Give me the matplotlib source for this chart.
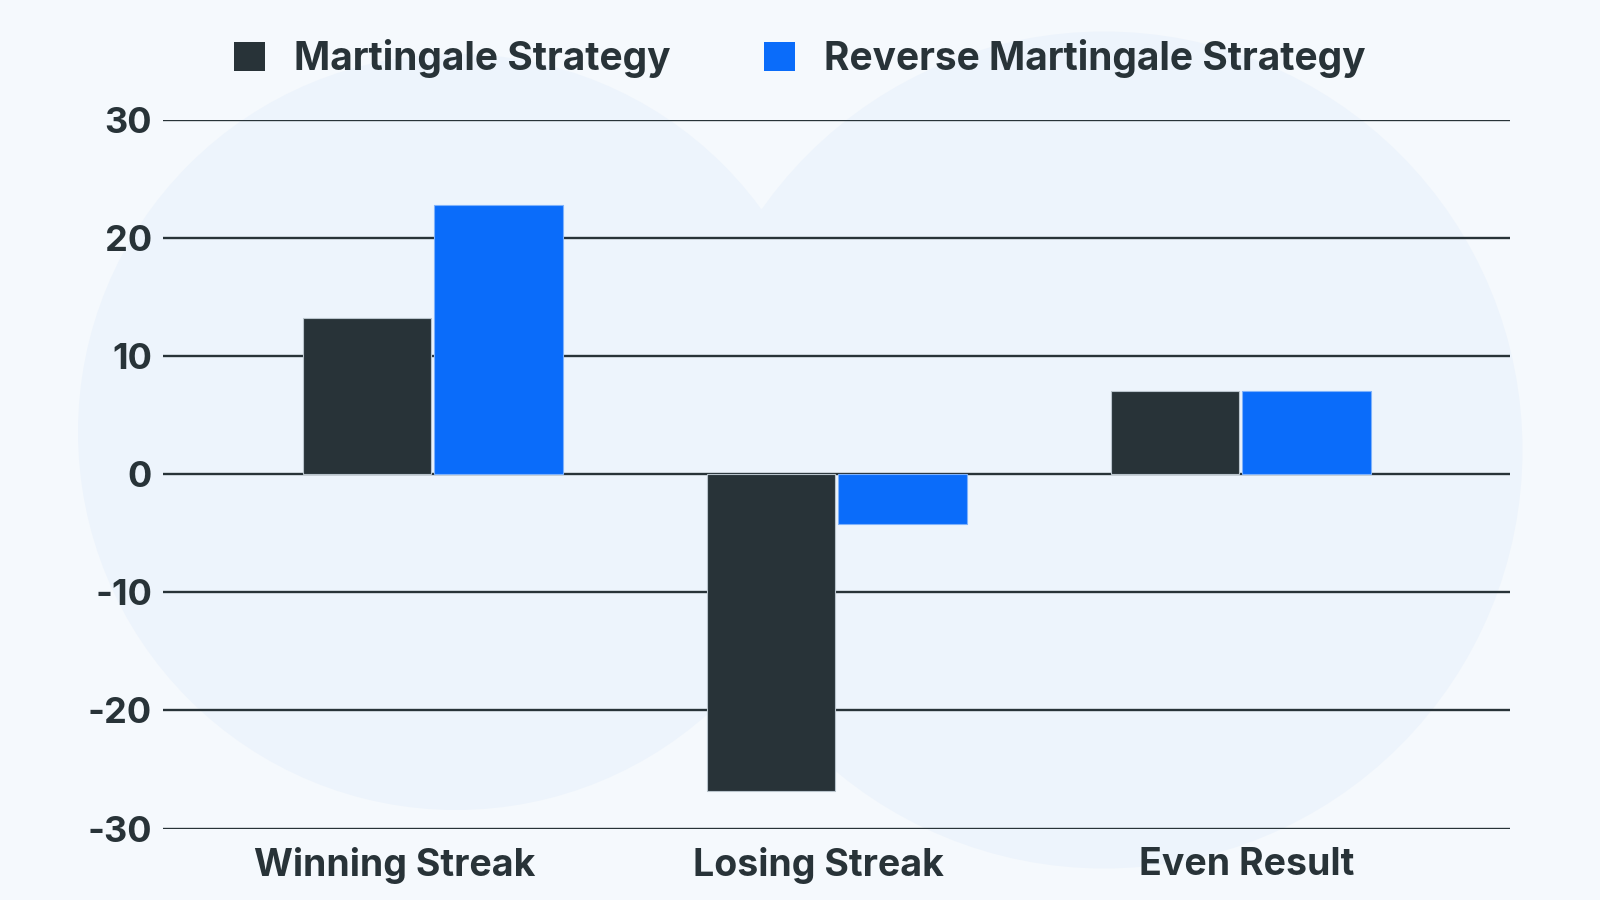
#!/usr/bin/env python3
"""Martingale vs reverse martingale outcome bars."""

import matplotlib
matplotlib.use("Agg")
import matplotlib.pyplot as plt
import numpy as np
from matplotlib.patches import Circle

categories = ["Winning Streak", "Losing Streak", "Even Result"]
martingale = [13.2, -26.8, 7.0]
reverse_martingale = [22.8, -4.2, 7.0]
series_names = ["Martingale Strategy", "Reverse Martingale Strategy"]
y_ticks = [-30, -20, -10, 0, 10, 20, 30]

DARK = "#283338"
BLUE = "#0A6CFA"
BG = "#F5F9FD"

plt.rcParams["font.family"] = ["Inter", "DejaVu Sans"]
plt.rcParams["font.weight"] = "bold"


def main():
    fig = plt.figure(figsize=(16, 9), dpi=100, facecolor=BG)

    # faint background circles
    for cx, cy, r in [(0.285, 0.52, 0.42), (0.69, 0.50, 0.465)]:
        fig.patches.append(
            Circle((cx * 16, cy * 9), r * 9, transform=fig.dpi_scale_trans,
                   facecolor="#EDF4FC", edgecolor="none", zorder=-5)
        )

    ax = fig.add_axes([0.102, 0.0794, 0.842, 0.7876])
    ax.set_facecolor("none")

    x = np.arange(len(categories))
    w = 0.318
    off = 0.163
    ax.bar(x - off, martingale, w, color=DARK, edgecolor="#B9C4CC",
           linewidth=0.8, label=series_names[0], zorder=3)
    ax.bar(x + off, reverse_martingale, w, color=BLUE, edgecolor="#7FB2FB",
           linewidth=0.8, label=series_names[1], zorder=3)

    ax.set_xlim(-0.667, 2.667)
    ax.set_ylim(-30, 30)
    ax.set_yticks(y_ticks)
    ax.set_yticklabels([str(t) for t in y_ticks])
    # labels in the original sit a little off the group centres
    ax.set_xticks(x + np.array([-0.094, -0.046, 0.015]))
    ax.set_xticklabels(categories)
    ax.yaxis.grid(True, color=DARK, linewidth=1.7, zorder=1)
    ax.set_axisbelow(True)
    for s in ax.spines.values():
        s.set_visible(False)
    ax.tick_params(axis="both", length=0, colors=DARK)
    ax.tick_params(axis="y", labelsize=26, pad=8)
    ax.tick_params(axis="x", labelsize=27, pad=13)
    for lbl in ax.get_xticklabels() + ax.get_yticklabels():
        lbl.set_fontweight("bold")

    leg = fig.legend(
        loc="center", bbox_to_anchor=(0.5, 0.935), ncol=2, frameon=False,
        fontsize=28, handlelength=0.8, handleheight=0.8, handletextpad=0.75,
        columnspacing=2.4,
    )
    for t in leg.get_texts():
        t.set_color(DARK)
        t.set_fontweight("bold")
    for h in leg.legend_handles:
        h.set_edgecolor("none")

    plt.savefig("out.png", dpi=100, facecolor=BG)


if __name__ == "__main__":
    main()
